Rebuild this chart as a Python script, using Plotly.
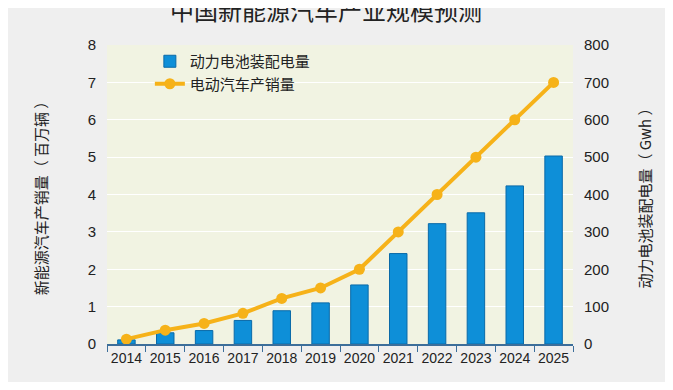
import plotly.graph_objects as go

years = ["2014", "2015", "2016", "2017", "2018", "2019", "2020", "2021", "2022", "2023", "2024", "2025"]
battery_gwh = [11, 30, 36, 63, 89, 110, 158, 242, 322, 351, 423, 503]
ev_sales_m = [0.13, 0.37, 0.55, 0.82, 1.22, 1.5, 2.0, 3.0, 4.0, 5.0, 6.0, 7.0]

title_text = "中国新能源汽车产业规模预测"
bar_name = "动力电池装配电量"
line_name = "电动汽车产销量"
left_title = "新能源汽车产销量（ 百万辆 ）"
right_title = "动力电池装配电量（ Gwh ）"

cjk = "Noto Sans CJK SC"
latin = "Liberation Sans, Arial"

W, H = 657, 374
L, R, T, B = 99, 92, 37, 38

fig = go.Figure()
fig.add_trace(go.Bar(
    x=years, y=battery_gwh, name=bar_name, yaxis="y",
    width=0.45,
    marker=dict(color="#0e8fd8", line=dict(color="#0a6aa8", width=1)),
))
fig.add_trace(go.Scatter(
    x=years, y=ev_sales_m, name=line_name, yaxis="y2",
    mode="lines+markers",
    line=dict(color="#f6b219", width=4),
    marker=dict(color="#f6b219", size=11),
))

fig.update_layout(
    width=W, height=H,
    margin=dict(l=L, r=R, t=T, b=B, autoexpand=False),
    paper_bgcolor="#efefef",
    plot_bgcolor="#f1f3e2",
    showlegend=True,
    legend=dict(
        x=0.092, y=1.0, xanchor="left", yanchor="top",
        bgcolor="rgba(0,0,0,0)", traceorder="normal",
        font=dict(family=cjk, size=15, color="#222"),
        tracegroupgap=0, itemwidth=30,
    ),
    xaxis=dict(
        type="category", automargin=False, range=[-0.5, 11.5],
        showline=True, linecolor="#3c6e9a", linewidth=1.5,
        ticks="outside", tickson="boundaries", ticklen=6, tickcolor="#3c6e9a",
        showgrid=False, tickangle=0,
        tickfont=dict(family=latin, size=14, color="#222"),
    ),
    yaxis=dict(
        side="right", range=[0, 800], dtick=100, automargin=False,
        showgrid=True, gridcolor="#ffffff", gridwidth=1,
        zeroline=False, showline=False,
        ticks="", ticklabelstandoff=10,
        tickfont=dict(family=latin, size=15, color="#222"),
        title=dict(text=right_title, font=dict(family=cjk, size=15, color="#222"), standoff=32),
    ),
    yaxis2=dict(
        side="left", overlaying="y", range=[0, 8], dtick=1, automargin=False,
        showgrid=False, zeroline=False, showline=False,
        ticks="", ticklabelstandoff=10,
        tickfont=dict(family=latin, size=15, color="#222"),
        title=dict(text=left_title, font=dict(family=cjk, size=15, color="#222"), standoff=36),
    ),
    annotations=[dict(
        text=title_text, xref="paper", yref="paper",
        x=(318 - L) / (W - L - R), y=(H - B - 1) / (H - T - B),
        xanchor="center", yanchor="middle", showarrow=False,
        font=dict(family=cjk, size=24, color="#222"),
    )],
)

fig.write_html("out.html")
